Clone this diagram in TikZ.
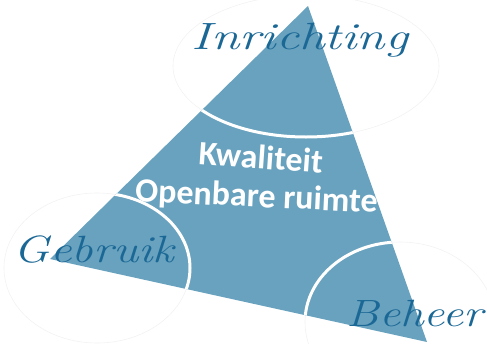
\documentclass[tikz,border=0pt]{standalone}
\usepackage{fontspec}
\newfontfamily\kwalfont{Carlito}
\usetikzlibrary{positioning}
\definecolor{driehoek}{HTML}{68A2BE}
\definecolor{labelblauw}{HTML}{1B6896}
\newcommand{\breed}[2]{\scalebox{#1}[1]{#2}}

\begin{document}
\begin{tikzpicture}[x=1pt, y=-1pt]
  \tikzstyle{hoek}=[text=labelblauw, inner sep=0pt, font=\fontsize{38}{40}\selectfont\itshape]
  \tikzstyle{rand}=[draw=black!5, line width=0.6pt]
  \tikzstyle{boog}=[draw=white, line width=3pt]
  \tikzstyle{midden}=[text=white, inner sep=0pt, anchor=base, font=\kwalfont\bfseries\fontsize{34}{39}\selectfont]
  \useasboundingbox (0,0) rectangle (487,343);

  \coordinate (top) at (308,6);
  \coordinate (links) at (50,259);
  \coordinate (rechts) at (427,342);

  % faint outlines of the three corner ellipses
  \draw[rand] (306,66) ellipse [x radius=133pt, y radius=71pt];
  \draw[rand] (97,268) ellipse [x radius=93pt, y radius=75pt];
  \draw[rand] (400,322) ellipse [x radius=95pt, y radius=80pt];

  \fill[driehoek] (top) -- (links) -- (rechts) -- cycle;
  \begin{scope}
    \clip (top) -- (links) -- (rechts) -- cycle;
    \draw[boog] (306,66) ellipse [x radius=133pt, y radius=71pt];
    \draw[boog] (97,268) ellipse [x radius=93pt, y radius=75pt];
    \draw[boog] (400,322) ellipse [x radius=95pt, y radius=80pt];
  \end{scope}

  \node[midden, rotate=-4] (kwaliteit) at (260,169) {Kwaliteit};
  \node[midden, rotate=-2.7] (openbaar) at (256,207) {Openbare ruimte};
  \node[hoek] (inrichting) at (300,40) {\breed{1.35}{Inrichting}};
  \node[hoek] (gebruik) at (94,250) {\breed{1.26}{Gebruik}};
  \node[hoek] (beheer) at (415,313) {\breed{1.24}{Beheer}};
\end{tikzpicture}
\end{document}
